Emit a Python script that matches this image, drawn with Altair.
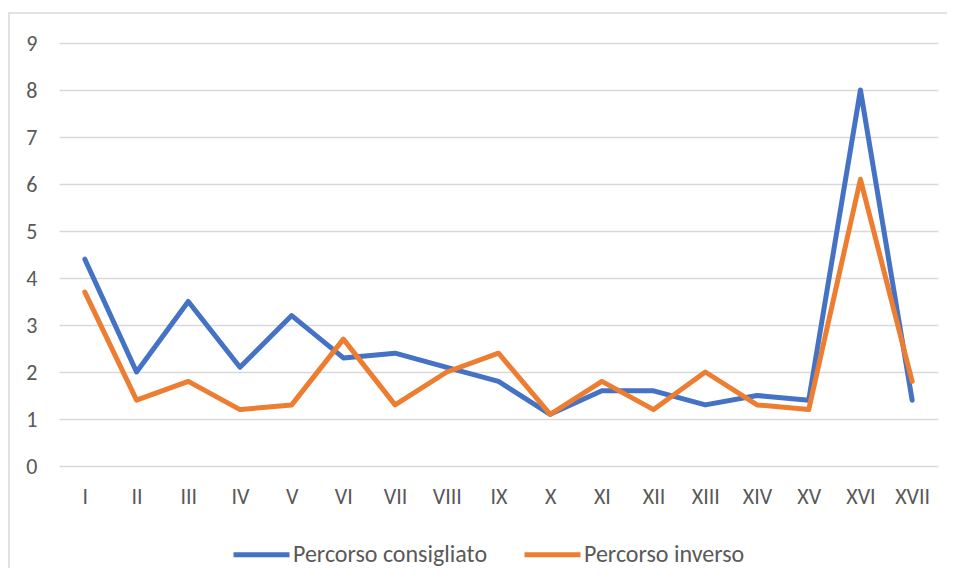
import altair as alt
import pandas as pd

categories = ["I", "II", "III", "IV", "V", "VI", "VII", "VIII", "IX", "X",
              "XI", "XII", "XIII", "XIV", "XV", "XVI", "XVII"]
consigliato = [4.4, 2.0, 3.5, 2.1, 3.2, 2.3, 2.4, 2.1, 1.8, 1.1,
               1.6, 1.6, 1.3, 1.5, 1.4, 8.0, 1.4]
inverso = [3.7, 1.4, 1.8, 1.2, 1.3, 2.7, 1.3, 2.0, 2.4, 1.1,
           1.8, 1.2, 2.0, 1.3, 1.2, 6.1, 1.8]
series_names = ["Percorso consigliato", "Percorso inverso"]
y_ticks = [0, 1, 2, 3, 4, 5, 6, 7, 8, 9]

rows = []
for name, vals in zip(series_names, [consigliato, inverso]):
    for i, (c, v) in enumerate(zip(categories, vals)):
        rows.append({"cat": c, "value": v, "series": name, "order": i})
df = pd.DataFrame(rows)

FONT = "Carlito, Calibri, Lato, sans-serif"
TXT = "#595959"
GRID = "#D9D9D9"
FS = 22

lines = alt.Chart(df).mark_line(strokeWidth=5, strokeCap="round", strokeJoin="round").encode(
    x=alt.X("cat:O", sort=categories, title=None,
            scale=alt.Scale(type="point", padding=0.5),
            axis=alt.Axis(labelAngle=0, domain=False, ticks=False, grid=False,
                          labelPadding=20, labelFontSize=FS, labelColor=TXT, labelFont=FONT)),
    y=alt.Y("value:Q", title=None,
            scale=alt.Scale(domain=[0, 9], nice=False),
            axis=alt.Axis(values=y_ticks, domain=False, ticks=False, grid=True,
                          gridColor=GRID, gridWidth=1.5, labelPadding=22,
                          labelFontSize=FS, labelColor=TXT, labelFont=FONT)),
    color=alt.Color("series:N", sort=series_names,
                    scale=alt.Scale(domain=series_names, range=["#4472C4", "#ED7D31"]),
                    legend=alt.Legend(title=None, orient="none", legendX=172, legendY=481,
                                      direction="horizontal", symbolType="stroke",
                                      symbolSize=3136, symbolStrokeWidth=5,
                                      columnPadding=26, labelOffset=1, padding=0,
                                      labelLimit=0,
                                      labelFontSize=24, labelColor=TXT, labelFont=FONT)),
    order="order:Q",
)

border = alt.Chart(pd.DataFrame({"a": [0]})).mark_rect(
    filled=False, stroke=GRID, strokeWidth=1.5
).encode(
    x=alt.value(-50), x2=alt.value(1100), y=alt.value(-30), y2=alt.value(800)
)

chart = alt.layer(border, lines).properties(
    width=879, height=423,
    background="white",
    autosize=alt.AutoSizeParams(type="none"),
    padding={"left": 51, "top": 35, "right": 9, "bottom": 102},
).configure_view(strokeWidth=0, stroke="transparent")

chart.save("out.html", embed_options={"renderer": "svg", "actions": False})
